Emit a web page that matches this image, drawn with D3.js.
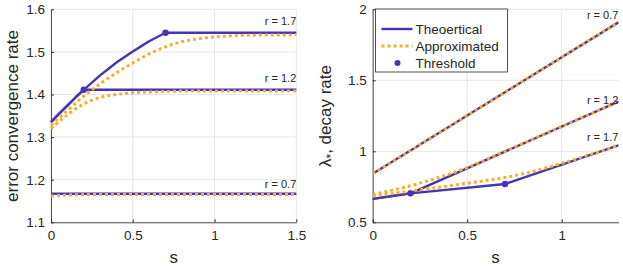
<!DOCTYPE html>
<html>
<head>
<meta charset="utf-8">
<script src="https://cdn.jsdelivr.net/npm/d3@7"></script>
<style>
  body { margin: 0; background: #fff; }
  text { font-family: "Liberation Sans", Arial, sans-serif; fill: #262626; }
</style>
</head>
<body>
<div id="chart"></div>
<script>
const width = 623;
const height = 269;

const blue = "#4733b3";
const orange = "#f5b02a";

// ---- left panel data: error convergence rate vs s ----
const sTheoL = [0, 0.05, 0.1, 0.15, 0.2, 0.25, 0.3, 0.35, 0.4, 0.45, 0.5, 0.55, 0.6, 0.65, 0.7, 1.5];
const theoL17 = [1.335, 1.355, 1.374, 1.393, 1.411, 1.428, 1.445, 1.460, 1.475, 1.488, 1.501, 1.513, 1.525, 1.535, 1.545, 1.545];
const sTheoL12 = [0, 0.05, 0.1, 0.15, 0.2, 1.5];
const theoL12 = [1.335, 1.355, 1.374, 1.393, 1.411, 1.411];
const sTheoL07 = [0, 1.5];
const theoL07 = [1.167, 1.167];

const sApproxL = [0, 0.1, 0.2, 0.3, 0.4, 0.5, 0.6, 0.7, 0.8, 0.9, 1.0, 1.2, 1.5];
const approxL17 = [1.328, 1.362, 1.396, 1.425, 1.451, 1.474, 1.495, 1.512, 1.524, 1.531, 1.535, 1.539, 1.540];
const approxL12 = [1.320, 1.352, 1.378, 1.393, 1.400, 1.404, 1.406, 1.407, 1.408, 1.408, 1.408, 1.408, 1.408];
const approxL07 = [1.162, 1.164, 1.165, 1.165, 1.165, 1.165, 1.165, 1.165, 1.165, 1.165, 1.165, 1.165, 1.165];

const threshL = [[0.2, 1.411], [0.7, 1.545]];

// ---- right panel data: lambda_* decay rate vs s ----
const sTheoR07 = [0, 1.3];
const theoR07 = [0.842, 1.908];
const sTheoR12 = [0, 0.2, 1.3];
const theoR12 = [0.665, 0.704, 1.35];
const sTheoR17 = [0, 0.2, 0.7, 1.3];
const theoR17 = [0.665, 0.704, 0.770, 1.042];

const sApproxR = [0, 0.1, 0.2, 0.3, 0.4, 0.5, 0.6, 0.7, 0.8, 0.9, 1.0, 1.1, 1.2, 1.3];
const approxR07 = [0.842, 0.924, 1.006, 1.088, 1.170, 1.252, 1.334, 1.416, 1.498, 1.580, 1.662, 1.744, 1.826, 1.908];
const approxR12 = [0.695, 0.725, 0.757, 0.795, 0.838, 0.885, 0.942, 1.000, 1.058, 1.117, 1.176, 1.234, 1.292, 1.350];
const approxR17 = [0.685, 0.702, 0.720, 0.738, 0.756, 0.775, 0.795, 0.815, 0.843, 0.877, 0.915, 0.955, 0.998, 1.045];

const threshR = [[0.2, 0.704], [0.7, 0.770]];

const ticksL = { x: [0, 0.5, 1, 1.5], y: [1.1, 1.2, 1.3, 1.4, 1.5, 1.6] };
const ticksR = { x: [0, 0.5, 1], y: [0.5, 1, 1.5, 2] };

const legendLabels = ["Theoertical", "Approximated", "Threshold"];

const svg = d3.select("#chart")
  .append("svg")
  .attr("width", width)
  .attr("height", height);

const zip = (xs, ys) => xs.map((x, i) => [x, ys[i]]);

function panel(opts) {
  const x = d3.scaleLinear().domain(opts.xDomain).range([opts.left, opts.right]);
  const y = d3.scaleLinear().domain(opts.yDomain).range([222.3, 9.3]);
  const g = svg.append("g");

  // grid
  g.selectAll(".gx").data(opts.ticks.x).enter().append("line")
    .attr("x1", d => x(d)).attr("x2", d => x(d))
    .attr("y1", y.range()[0]).attr("y2", y.range()[1])
    .attr("stroke", "#e6e6e6").attr("stroke-width", 1);
  g.selectAll(".gy").data(opts.ticks.y).enter().append("line")
    .attr("x1", opts.left).attr("x2", opts.right)
    .attr("y1", d => y(d)).attr("y2", d => y(d))
    .attr("stroke", "#e6e6e6").attr("stroke-width", 1);

  // axes (ticks pointing inward)
  const fmt = d => String(d);
  const ax = g.append("g")
    .attr("transform", `translate(0,${y.range()[0]})`)
    .call(d3.axisBottom(x).tickValues(opts.ticks.x).tickFormat(fmt).tickSizeInner(-3).tickSizeOuter(0).tickPadding(8));
  const ay = g.append("g")
    .attr("transform", `translate(${opts.left},0)`)
    .call(d3.axisLeft(y).tickValues(opts.ticks.y).tickFormat(fmt).tickSizeInner(-3).tickSizeOuter(0).tickPadding(6));
  [ax, ay].forEach(a => {
    a.select(".domain").attr("stroke", "#262626").attr("stroke-width", 0.8);
    a.selectAll(".tick line").attr("stroke", "#262626");
    a.selectAll("text").style("font-size", "13.5px").attr("fill", "#262626")
      .style("font-family", '"Liberation Sans", Arial, sans-serif');
  });

  const lineLin = d3.line().x(d => x(d[0])).y(d => y(d[1]));
  const lineSmooth = d3.line().x(d => x(d[0])).y(d => y(d[1])).curve(d3.curveMonotoneX);

  // theoretical (solid)
  opts.theo.forEach(pts => {
    g.append("path").datum(pts)
      .attr("d", lineLin)
      .attr("fill", "none").attr("stroke", blue).attr("stroke-width", 2.4)
      .attr("stroke-linejoin", "round");
  });
  // approximated (dotted)
  opts.approx.forEach(pts => {
    g.append("path").datum(pts)
      .attr("d", lineSmooth)
      .attr("fill", "none").attr("stroke", orange).attr("stroke-width", 3)
      .attr("stroke-dasharray", "3,3");
  });
  // thresholds
  g.selectAll(".th").data(opts.thresh).enter().append("circle")
    .attr("cx", d => x(d[0])).attr("cy", d => y(d[1])).attr("r", 3.2)
    .attr("fill", blue);

  // r labels
  opts.labels.forEach(l => {
    g.append("text")
      .attr("x", opts.right).attr("y", y(l.v) + l.dy)
      .attr("text-anchor", "end").style("font-size", "11px")
      .text(l.t);
  });

  // axis labels
  g.append("text")
    .attr("x", (opts.left + opts.right) / 2).attr("y", 263)
    .attr("text-anchor", "middle").style("font-size", "17px").text("s");

  return { g, x, y };
}

panel({
  left: 51, right: 296.3, xDomain: [0, 1.5], yDomain: [1.1, 1.6], ticks: ticksL,
  theo: [zip(sTheoL, theoL17), zip(sTheoL12, theoL12), zip(sTheoL07, theoL07)],
  approx: [zip(sApproxL, approxL17), zip(sApproxL, approxL12), zip(sApproxL, approxL07)],
  thresh: threshL,
  labels: [{ t: "r = 1.7", v: 1.545, dy: -8 }, { t: "r = 1.2", v: 1.411, dy: -8 }, { t: "r = 0.7", v: 1.167, dy: -6 }]
});

panel({
  left: 372.7, right: 618.4, xDomain: [0, 1.3], yDomain: [0.5, 2], ticks: ticksR,
  theo: [zip(sTheoR07, theoR07), zip(sTheoR12, theoR12), zip(sTheoR17, theoR17)],
  approx: [zip(sApproxR, approxR07), zip(sApproxR, approxR12), zip(sApproxR, approxR17)],
  thresh: threshR,
  labels: [{ t: "r = 0.7", v: 1.908, dy: -3 }, { t: "r = 1.2", v: 1.35, dy: 2 }, { t: "r = 1.7", v: 1.042, dy: -4 }]
});

// y labels
svg.append("text")
  .attr("transform", "translate(18,116) rotate(-90)")
  .attr("text-anchor", "middle").style("font-size", "17px")
  .text("error convergence rate");

const yl = svg.append("text")
  .attr("transform", "translate(331,116) rotate(-90)")
  .attr("text-anchor", "middle").style("font-size", "17px");
yl.append("tspan").text("λ");
yl.append("tspan").attr("dy", 4).style("font-size", "12px").text("*");
yl.append("tspan").attr("dy", -4).text(", decay rate");

// legend
const lg = svg.append("g").attr("transform", "translate(375.5,9)");
lg.append("rect").attr("width", 132).attr("height", 63)
  .attr("fill", "#fff").attr("stroke", "#262626").attr("stroke-width", 0.8);
const item = lg.selectAll(".li").data(legendLabels).enter().append("g")
  .attr("transform", (d, i) => `translate(0,${20 + i * 17})`);
item.append("text").attr("x", 40).attr("y", 5).style("font-size", "13.5px").text(d => d);
item.filter((d, i) => i === 0).append("line")
  .attr("x1", 6).attr("x2", 37).attr("y1", 0).attr("y2", 0)
  .attr("stroke", blue).attr("stroke-width", 2.4);
item.filter((d, i) => i === 1).append("line")
  .attr("x1", 6).attr("x2", 37).attr("y1", 0).attr("y2", 0)
  .attr("stroke", orange).attr("stroke-width", 3).attr("stroke-dasharray", "3,3");
item.filter((d, i) => i === 2).append("circle")
  .attr("cx", 22).attr("cy", 0).attr("r", 3).attr("fill", blue);
</script>
</body>
</html>
